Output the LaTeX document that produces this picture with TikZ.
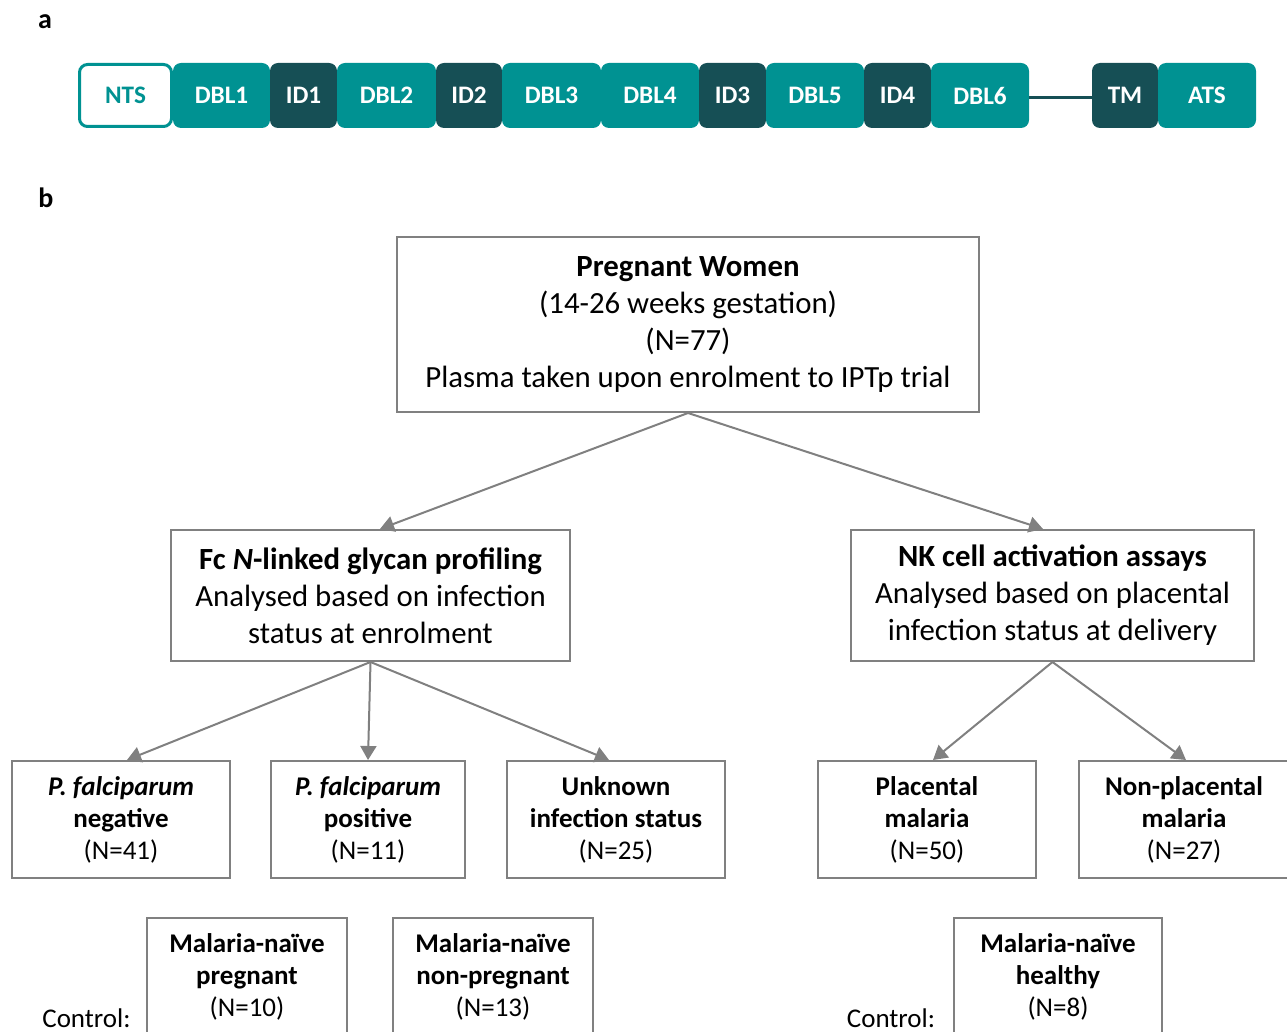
\documentclass[tikz,border=0pt]{standalone}
\usepackage{fontspec}
\setmainfont{Carlito}
\usetikzlibrary{arrows.meta,calc}
\definecolor{DomainClr}{RGB}{0,146,146}
\definecolor{LinkClr}{RGB}{22,79,85}
\definecolor{BoxClr}{RGB}{128,128,128}

\tikzset{
  dombox/.style={rounded corners=4pt, minimum height=32.5pt, inner sep=0pt,
    text=white, font=\bfseries\fontsize{12.6}{15}\selectfont},
  flowbox/.style={draw=BoxClr, line width=1pt, align=center, inner sep=0pt,
    font=\fontsize{15.4}{18.5}\selectfont},
  leafbox/.style={draw=BoxClr, line width=1pt, align=center, inner sep=0pt,
    minimum height=58.5pt, font=\fontsize{13.5}{16}\selectfont},
  flowarrow/.style={draw=BoxClr, line width=1pt, -{Triangle[width=8pt,length=7pt]}},
  panel/.style={font=\bfseries\fontsize{14}{16}\selectfont}
}

\begin{document}
\begin{tikzpicture}[x=0.5pt,y=-0.5pt]
\clip (0,0) rectangle (1287,1032);

% panel a: domain layout
\node[panel] (pa) at (45,22) {a};
\draw[LinkClr, line width=1.5pt] (1020,98) -- (1100,98);
\node[dombox, draw=DomainClr, line width=1.5pt, fill=white, text=DomainClr,
  minimum width=46pt, minimum height=31pt] (nts) at (125.5,95.5) {NTS};
\node[dombox, fill=DomainClr, minimum width=48.5pt] (dbl1) at (221.5,95.5) {DBL1};
\node[dombox, fill=LinkClr, minimum width=33.5pt] (id1) at (303.5,95.5) {ID1};
\node[dombox, fill=DomainClr, minimum width=49.5pt] (dbl2) at (386.5,95.5) {DBL2};
\node[dombox, fill=LinkClr, minimum width=33pt] (id2) at (469,95.5) {ID2};
\node[dombox, fill=DomainClr, minimum width=49.5pt] (dbl3) at (551.5,95.5) {DBL3};
\node[dombox, fill=DomainClr, minimum width=49pt] (dbl4) at (650,95.5) {DBL4};
\node[dombox, fill=LinkClr, minimum width=33.5pt] (id3) at (732.5,95.5) {ID3};
\node[dombox, fill=DomainClr, minimum width=49pt] (dbl5) at (815,95.5) {DBL5};
\node[dombox, fill=LinkClr, minimum width=33.5pt] (id4) at (897.5,95.5) {ID4};
\node[dombox, fill=DomainClr, minimum width=49pt] (dbl6) at (980,95.5) {DBL6};
\node[dombox, fill=LinkClr, minimum width=33pt] (tm) at (1125,95.5) {TM};
\node[dombox, fill=DomainClr, minimum width=49pt] (ats) at (1207,95.5) {ATS};

% panel b: study flow
\node[panel] (pb) at (46,198) {b};

\node[flowbox, minimum width=291pt, minimum height=87.5pt] (women) at (688,324.5)
  {\textbf{Pregnant Women}\\(14-26 weeks gestation)\\(N=77)\\Plasma taken upon enrolment to IPTp trial};

\node[flowbox, minimum width=199.5pt, minimum height=65.5pt] (glycan) at (370.5,595.5)
  {\textbf{Fc \textit{N}-linked glycan profiling}\\Analysed based on infection\\status at enrolment};
\node[flowbox, minimum width=201.5pt, minimum height=65.5pt] (nkcell) at (1052.5,595.5)
  {\textbf{NK cell activation assays}\\Analysed based on placental\\infection status at delivery};

\node[leafbox, minimum width=109pt] (pfneg) at (121,819.5)
  {\textbf{\textit{P. falciparum}}\\\textbf{negative}\\(N=41)};
\node[leafbox, minimum width=97pt] (pfpos) at (368,819.5)
  {\textbf{\textit{P. falciparum}}\\\textbf{positive}\\(N=11)};
\node[leafbox, minimum width=109pt] (unknown) at (616,819.5)
  {\textbf{Unknown}\\\textbf{infection status}\\(N=25)};
\node[leafbox, minimum width=109pt] (pm) at (927,819.5)
  {\textbf{Placental}\\\textbf{malaria}\\(N=50)};
\node[leafbox, minimum width=105pt] (npm) at (1184,819.5)
  {\textbf{Non-placental}\\\textbf{malaria}\\(N=27)};

\draw[flowarrow] (women.south) -- ([xshift=4.75pt]glycan.north);
\draw[flowarrow] (women.south) -- ([xshift=-4.75pt]nkcell.north);
\draw[flowarrow] (glycan.south) -- ([xshift=3pt]pfneg.north);
\draw[flowarrow] (glycan.south) -- (pfpos.north);
\draw[flowarrow] (glycan.south) -- ([xshift=-3.5pt]unknown.north);
\draw[flowarrow] (nkcell.south) -- ([xshift=3pt]pm.north);
\draw[flowarrow] (nkcell.south) -- ([xshift=1pt]npm.north);

% controls
\node[leafbox, minimum width=100pt] (ctlpreg) at (247,976.5)
  {\textbf{Malaria-naïve}\\\textbf{pregnant}\\(N=10)};
\node[leafbox, minimum width=100pt] (ctlnon) at (493,976.5)
  {\textbf{Malaria-naïve}\\\textbf{non-pregnant}\\(N=13)};
\node[leafbox, minimum width=104pt] (ctlhealthy) at (1058,976.5)
  {\textbf{Malaria-naïve}\\\textbf{healthy}\\(N=8)};
\node[font=\fontsize{13.5}{16}\selectfont] (ctlA) at (86.5,1018) {Control:};
\node[font=\fontsize{13.5}{16}\selectfont] (ctlB) at (891,1018) {Control:};
\end{tikzpicture}
\end{document}
